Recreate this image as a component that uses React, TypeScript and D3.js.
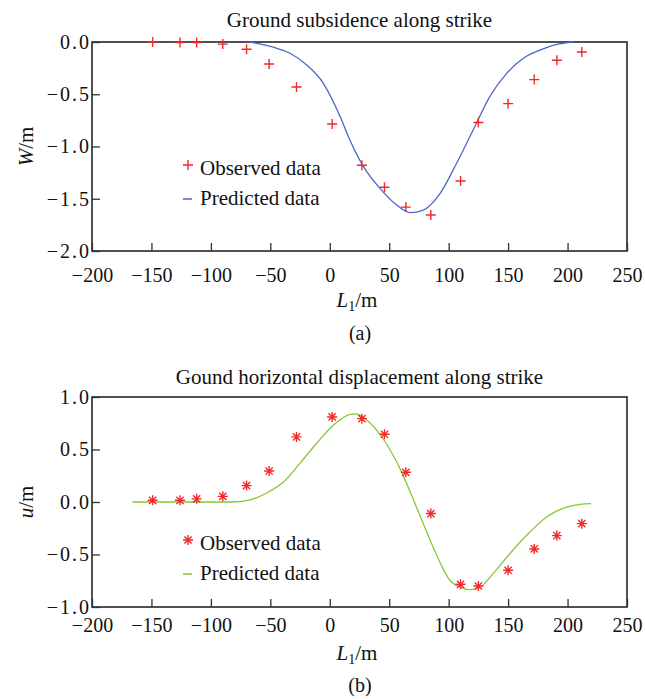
import { useEffect, useRef } from 'react'
import * as d3 from 'd3'

// Observed positions along strike (m), shared by both panels
const obsL = [-149, -126, -112, -90, -70, -51, -28, 2, 27, 46, 64, 85, 110, 125, 150, 172, 191, 212]
const obsW = [0, -0.005, -0.005, -0.02, -0.07, -0.21, -0.43, -0.785, -1.18, -1.39, -1.58, -1.655, -1.33, -0.77, -0.59, -0.36, -0.175, -0.096]
const obsU = [0.016, 0.016, 0.03, 0.054, 0.156, 0.295, 0.62, 0.81, 0.794, 0.645, 0.283, -0.11, -0.784, -0.8, -0.65, -0.447, -0.32, -0.206]

// Predicted curves
const predWL = [-68, -58, -47.5, -33.5, -19.4, -5.4, 8.6, 17, 28.2, 42.2, 56.3, 67.5, 78.6, 92.7, 106.7, 120.7, 134.7, 148.8, 162.8, 176.8, 190, 205]
const predW = [0, -0.02, -0.05, -0.108, -0.22, -0.395, -0.71, -0.94, -1.19, -1.4, -1.56, -1.633, -1.608, -1.45, -1.16, -0.84, -0.52, -0.3, -0.156, -0.077, -0.025, 0]
const predUL = [-166, -120, -81, -67, -53, -39, -25, -11, 3, 17, 22, 31, 45, 59, 73, 87, 101, 112, 118, 126, 137.5, 151.6, 165.6, 182.4, 199.3, 210.7, 219.7]
const predU = [0, 0, 0, 0.02, 0.086, 0.19, 0.37, 0.56, 0.73, 0.835, 0.84, 0.78, 0.6, 0.32, -0.05, -0.43, -0.745, -0.82, -0.835, -0.815, -0.68, -0.49, -0.317, -0.143, -0.048, -0.022, -0.015]

const xTicks = [-200, -150, -100, -50, 0, 50, 100, 150, 200, 250]
const wTicks = [0, -0.5, -1, -1.5, -2]
const uTicks = [1, 0.5, 0, -0.5, -1]

const FONT = "'Liberation Serif', 'Times New Roman', serif"
const RED = '#ee2a2a'
const BLUE = '#4a68c8'
const GREEN = '#86c832'

export default function App() {
  const svgRef = useRef<SVGSVGElement | null>(null)

  useEffect(() => {
    if (!svgRef.current) return
    const svg = d3.select(svgRef.current)
    svg.selectAll('*').remove()

    const left = 92, right = 627

    const panel = (opts: any) => {
      const { top, bottom, yDomain, yTicks, obsY, predL, predY, color, marker, title, titleY,
        tickPad, yLabel, xLabelY, tag, tagY, legY1, legY2 } = opts
      const x = d3.scaleLinear().domain([-200, 250]).range([left, right])
      const y = d3.scaleLinear().domain(yDomain).range([bottom, top])
      const g = svg.append('g')

      // axes with inward ticks
      g.append('g')
        .attr('transform', `translate(0,${bottom})`)
        .call(d3.axisBottom(x).tickValues(xTicks).tickSize(-8).tickPadding(tickPad))
        .call(a => {
          a.select('.domain').remove()
          a.selectAll('.tick line').attr('stroke', '#333').attr('stroke-width', 1.3)
          a.selectAll('text').attr('font-family', FONT).attr('font-size', 20).attr('fill', '#111')
        })
      g.append('g')
        .attr('transform', `translate(${left},0)`)
        .call(d3.axisLeft(y).tickValues(yTicks).tickSize(-8).tickPadding(1).tickFormat(d3.format('.1f') as any))
        .call(a => {
          a.select('.domain').remove()
          a.selectAll('.tick line').attr('stroke', '#333').attr('stroke-width', 1.3)
          a.selectAll('text').attr('font-family', FONT).attr('font-size', 20).attr('fill', '#111')
            .attr('letter-spacing', '2px')
        })

      // frame
      g.append('rect')
        .attr('x', left).attr('y', top)
        .attr('width', right - left).attr('height', bottom - top)
        .attr('fill', 'none').attr('stroke', '#333').attr('stroke-width', 1.7)

      // predicted line
      const line = d3.line<number>()
        .x((_, i) => x(predL[i]))
        .y(d => y(d))
        .curve(d3.curveMonotoneX)
      g.append('path')
        .attr('d', line(predY))
        .attr('fill', 'none').attr('stroke', color).attr('stroke-width', 1.3)

      // observed markers
      const drawMarker = (cx: number, cy: number) => {
        const m = g.append('g').attr('transform', `translate(${cx},${cy})`)
          .attr('stroke', RED).attr('stroke-width', 1.4).attr('fill', 'none')
        m.append('path').attr('d', 'M-5,0H5M0,-5V5')
        if (marker === 'star') {
          m.append('path').attr('d', 'M-3.6,-3.6L3.6,3.6M-3.6,3.6L3.6,-3.6')
          m.append('circle').attr('r', 1.6).attr('fill', RED).attr('stroke', 'none')
        }
      }
      obsL.forEach((l, i) => drawMarker(x(l), y(obsY[i])))

      // title
      g.append('text')
        .attr('x', (left + right) / 2).attr('y', titleY)
        .attr('text-anchor', 'middle').attr('font-family', FONT).attr('font-size', 21).attr('fill', '#111')
        .text(title)

      // y label
      const yl = g.append('text')
        .attr('transform', `translate(33,${(top + bottom) / 2}) rotate(-90)`)
        .attr('text-anchor', 'middle').attr('font-family', FONT).attr('font-size', 21).attr('fill', '#111')
      yl.append('tspan').attr('font-style', 'italic').text(yLabel)
      yl.append('tspan').text('/m')

      // x label
      const xl = g.append('text')
        .attr('x', 357).attr('y', xLabelY)
        .attr('text-anchor', 'middle').attr('font-family', FONT).attr('font-size', 21).attr('fill', '#111')
      xl.append('tspan').attr('font-style', 'italic').text('L')
      xl.append('tspan').attr('font-size', 14).attr('dy', 4).text('1')
      xl.append('tspan').attr('dy', -4).text('/m')

      // panel tag
      g.append('text')
        .attr('x', 360).attr('y', tagY)
        .attr('text-anchor', 'middle').attr('font-family', FONT).attr('font-size', 20).attr('fill', '#111')
        .text(tag)

      // legend
      drawMarker(188, legY1 - 10)
      g.append('line')
        .attr('x1', 183).attr('x2', 192).attr('y1', legY2 - 6).attr('y2', legY2 - 6)
        .attr('stroke', color).attr('stroke-width', 1.5)
      g.append('text').attr('x', 200).attr('y', legY1)
        .attr('font-family', FONT).attr('font-size', 21).attr('fill', '#111').text('Observed data')
      g.append('text').attr('x', 200).attr('y', legY2)
        .attr('font-family', FONT).attr('font-size', 21).attr('fill', '#111').text('Predicted data')
    }

    panel({
      top: 42, bottom: 251, yDomain: [-2, 0], yTicks: wTicks, obsY: obsW,
      predL: predWL, predY: predW, color: BLUE, marker: 'plus',
      title: 'Ground subsidence along strike', titleY: 27, tickPad: 16.5,
      yLabel: 'W', xLabelY: 307, tag: '(a)', tagY: 340, legY1: 175, legY2: 205
    })
    panel({
      top: 397, bottom: 607, yDomain: [-1, 1], yTicks: uTicks, obsY: obsU,
      predL: predUL, predY: predU, color: GREEN, marker: 'star',
      title: 'Gound horizontal displacement along strike', titleY: 384, tickPad: 10.5,
      yLabel: 'u', xLabelY: 660, tag: '(b)', tagY: 692, legY1: 550, legY2: 580
    })
  }, [])

  return (
    <svg
      ref={svgRef}
      width={645}
      height={699}
      style={{ position: 'absolute', left: 0, top: 0, background: '#fff' }}
    />
  )
}
